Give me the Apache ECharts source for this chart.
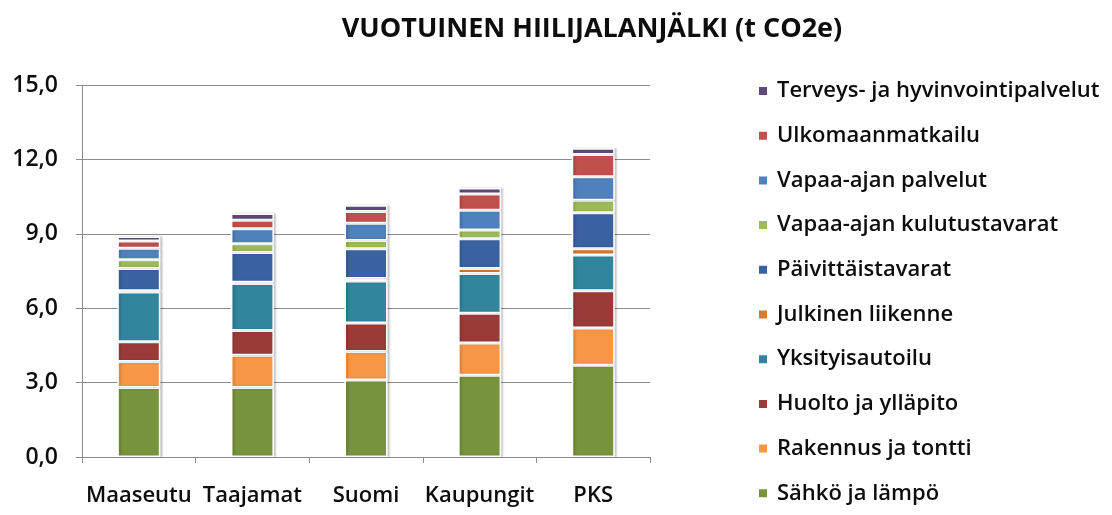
<!DOCTYPE html>
<html>
<head>
<meta charset="utf-8">
<script src="https://cdn.jsdelivr.net/npm/echarts@6/dist/echarts.min.js"></script>
<style>
  html, body { margin: 0; padding: 0; background: #ffffff; }
  #chart { width: 1112px; height: 515px; }
</style>
</head>
<body>
<div id="chart"></div>
<script>
// Alueet (x-akseli)
const categories = ['Maaseutu', 'Taajamat', 'Suomi', 'Kaupungit', 'PKS'];

// Päästölähteet, pinon alimmasta ylimpään (t CO2e / vuosi)
const sahkoJaLampo          = [2.8, 2.8, 3.1, 3.3, 3.7];
const rakennusJaTontti      = [1.05, 1.3, 1.15, 1.3, 1.5];
const huoltoJaYllapito      = [0.8, 1.0, 1.15, 1.2, 1.5];
const yksityisautoilu       = [2.0, 1.9, 1.7, 1.6, 1.45];
const julkinenLiikenne      = [0.05, 0.05, 0.1, 0.2, 0.25];
const paivittaistavarat     = [0.9, 1.2, 1.2, 1.2, 1.45];
const vapaaAjanKulutus      = [0.35, 0.35, 0.33, 0.35, 0.5];
const vapaaAjanPalvelut     = [0.47, 0.6, 0.7, 0.8, 0.95];
const ulkomaanmatkailu      = [0.29, 0.35, 0.47, 0.65, 0.9];
const terveysJaHyvinvointi  = [0.18, 0.27, 0.25, 0.25, 0.25];

// Y-akselin asteikko
const yTicks = [0, 3, 6, 9, 12, 15];

const seriesDefs = [
  { name: 'Sähkö ja lämpö',               data: sahkoJaLampo,         color: '#77933C' },
  { name: 'Rakennus ja tontti',           data: rakennusJaTontti,     color: '#F79646' },
  { name: 'Huolto ja ylläpito',           data: huoltoJaYllapito,     color: '#9B3B38' },
  { name: 'Yksityisautoilu',              data: yksityisautoilu,      color: '#31859C' },
  { name: 'Julkinen liikenne',            data: julkinenLiikenne,     color: '#D9782F' },
  { name: 'Päivittäistavarat',            data: paivittaistavarat,    color: '#3A62A0' },
  { name: 'Vapaa-ajan kulutustavarat',    data: vapaaAjanKulutus,     color: '#9BBB59' },
  { name: 'Vapaa-ajan palvelut',          data: vapaaAjanPalvelut,    color: '#4F81BD' },
  { name: 'Ulkomaanmatkailu',             data: ulkomaanmatkailu,     color: '#C0504D' },
  { name: 'Terveys- ja hyvinvointipalvelut', data: terveysJaHyvinvointi, color: '#604A7B' }
];

const font = '"Open Sans", Lato, sans-serif';
const axisGray = '#8C8C8C';
const textColor = '#0d0d0d';

const chart = echarts.init(document.getElementById('chart'), null, { renderer: 'canvas' });

chart.setOption({
  animation: false,
  backgroundColor: '#ffffff',
  title: {
    text: 'VUOTUINEN HIILIJALANJÄLKI (t CO2e)',
    left: 587,
    textAlign: 'center',
    top: 11,
    textStyle: { fontFamily: font, fontWeight: 'bold', fontSize: 27, color: textColor }
  },
  legend: {
    orient: 'vertical',
    left: 752,
    top: 74,
    icon: 'rect',
    itemWidth: 10,
    itemHeight: 10,
    itemGap: 20.7,
    data: seriesDefs.map(s => s.name).reverse(),
    textStyle: { fontFamily: font, fontSize: 22, fontWeight: 600, color: textColor, lineHeight: 24, padding: [0, 0, 0, 4] }
  },
  grid: { left: 82, right: 462, top: 85, bottom: 58 },
  xAxis: {
    type: 'category',
    data: categories,
    axisLine: { lineStyle: { color: axisGray, width: 1 } },
    axisTick: { show: true, length: 6, lineStyle: { color: axisGray } },
    axisLabel: { fontFamily: font, fontSize: 22, fontWeight: 600, color: textColor, margin: 28, interval: 0 }
  },
  yAxis: {
    type: 'value',
    min: yTicks[0],
    max: yTicks[yTicks.length - 1],
    interval: yTicks[1] - yTicks[0],
    axisLine: { show: true, lineStyle: { color: axisGray, width: 1 } },
    axisTick: { show: true, inside: false, length: 6, lineStyle: { color: axisGray } },
    splitLine: { show: true, lineStyle: { color: axisGray, width: 1 } },
    axisLabel: {
      fontFamily: font, fontSize: 23, fontWeight: 600, color: textColor, margin: 24,
      formatter: v => v.toFixed(1).replace('.', ',')
    }
  },
  series: seriesDefs.map(s => ({
    name: s.name,
    type: 'bar',
    stack: 'total',
    barWidth: 43,
    data: s.data,
    itemStyle: {
      color: s.color,
      borderColor: '#ffffff',
      borderWidth: 1.5,
      shadowColor: 'rgba(0,0,0,0.18)',
      shadowOffsetX: 2,
      shadowBlur: 2
    }
  }))
});
</script>
</body>
</html>
